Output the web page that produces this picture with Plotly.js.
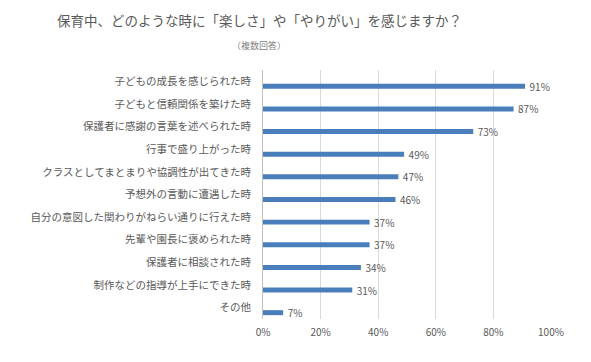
<!DOCTYPE html>
<html><head><meta charset="utf-8">
<script src="https://cdn.plot.ly/plotly-3.0.1.min.js"></script>
<style>html,body{margin:0;padding:0;background:#fff}#c{width:591px;height:362px}</style>
</head><body><div id="c"></div>
<script>
const categories = [
  "子どもの成長を感じられた時",
  "子どもと信頼関係を築けた時",
  "保護者に感謝の言葉を述べられた時",
  "行事で盛り上がった時",
  "クラスとしてまとまりや協調性が出てきた時",
  "予想外の言動に遭遇した時",
  "自分の意図した関わりがねらい通りに行えた時",
  "先輩や園長に褒められた時",
  "保護者に相談された時",
  "制作などの指導が上手にできた時",
  "その他"
];
const values = [91, 87, 73, 49, 47, 46, 37, 37, 34, 31, 7];
const xTicks = [0, 20, 40, 60, 80, 100];
const xTickLabels = ["0%", "20%", "40%", "60%", "80%", "100%"];
const titleText = "保育中、どのような時に「楽しさ」や「やりがい」を感じますか？";
const subtitleText = "（複数回答）";

const font = "'Noto Sans CJK JP', 'Noto Sans', sans-serif";
const trace = {
  type: "bar", orientation: "h",
  y: categories, x: values,
  marker: {color: "#4a7ebb"},
  width: 0.22, offset: 0.11,
  text: values.map(v => "\u00a0\u00a0" + v + "%"),
  textposition: "outside",
  constraintext: "none",
  textfont: {family: font, size: 10, color: "#595959"},
  cliponaxis: false,
  hoverinfo: "none"
};
const layout = {
  width: 591, height: 362,
  margin: {l: 263, r: 40, t: 70, b: 43},
  paper_bgcolor: "#fff", plot_bgcolor: "#fff",
  showlegend: false,
  font: {family: font, color: "#595959"},
  xaxis: {
    range: [0, 100], tickvals: xTicks, ticktext: xTickLabels,
    showgrid: true, gridcolor: "#d9d9d9", gridwidth: 1,
    zeroline: false, showline: false, ticks: "",
    tickfont: {family: font, size: 10, color: "#595959"},
    ticklabelstandoff: 6, fixedrange: true
  },
  yaxis: {
    autorange: "reversed", type: "category",
    showline: true, linecolor: "#bfbfbf", linewidth: 1,
    showgrid: false, ticks: "", zeroline: false,
    tickfont: {family: font, size: 10.5, color: "#595959"},
    ticklabelstandoff: 9, fixedrange: true
  },
  annotations: [
    {text: titleText, xref: "paper", yref: "paper", x: (259-263)/288, y: 1, yshift: 50,
     xanchor: "center", yanchor: "middle", showarrow: false,
     font: {family: font, size: 13.5, color: "#595959"}},
    {text: subtitleText, xref: "paper", yref: "paper", x: (259-263)/288, y: 1, yshift: 25,
     xanchor: "center", yanchor: "middle", showarrow: false,
     font: {family: font, size: 9, color: "#7f7f7f"}}
  ]
};
Plotly.newPlot("c", [trace], layout, {displayModeBar: false, staticPlot: true});
</script></body></html>
